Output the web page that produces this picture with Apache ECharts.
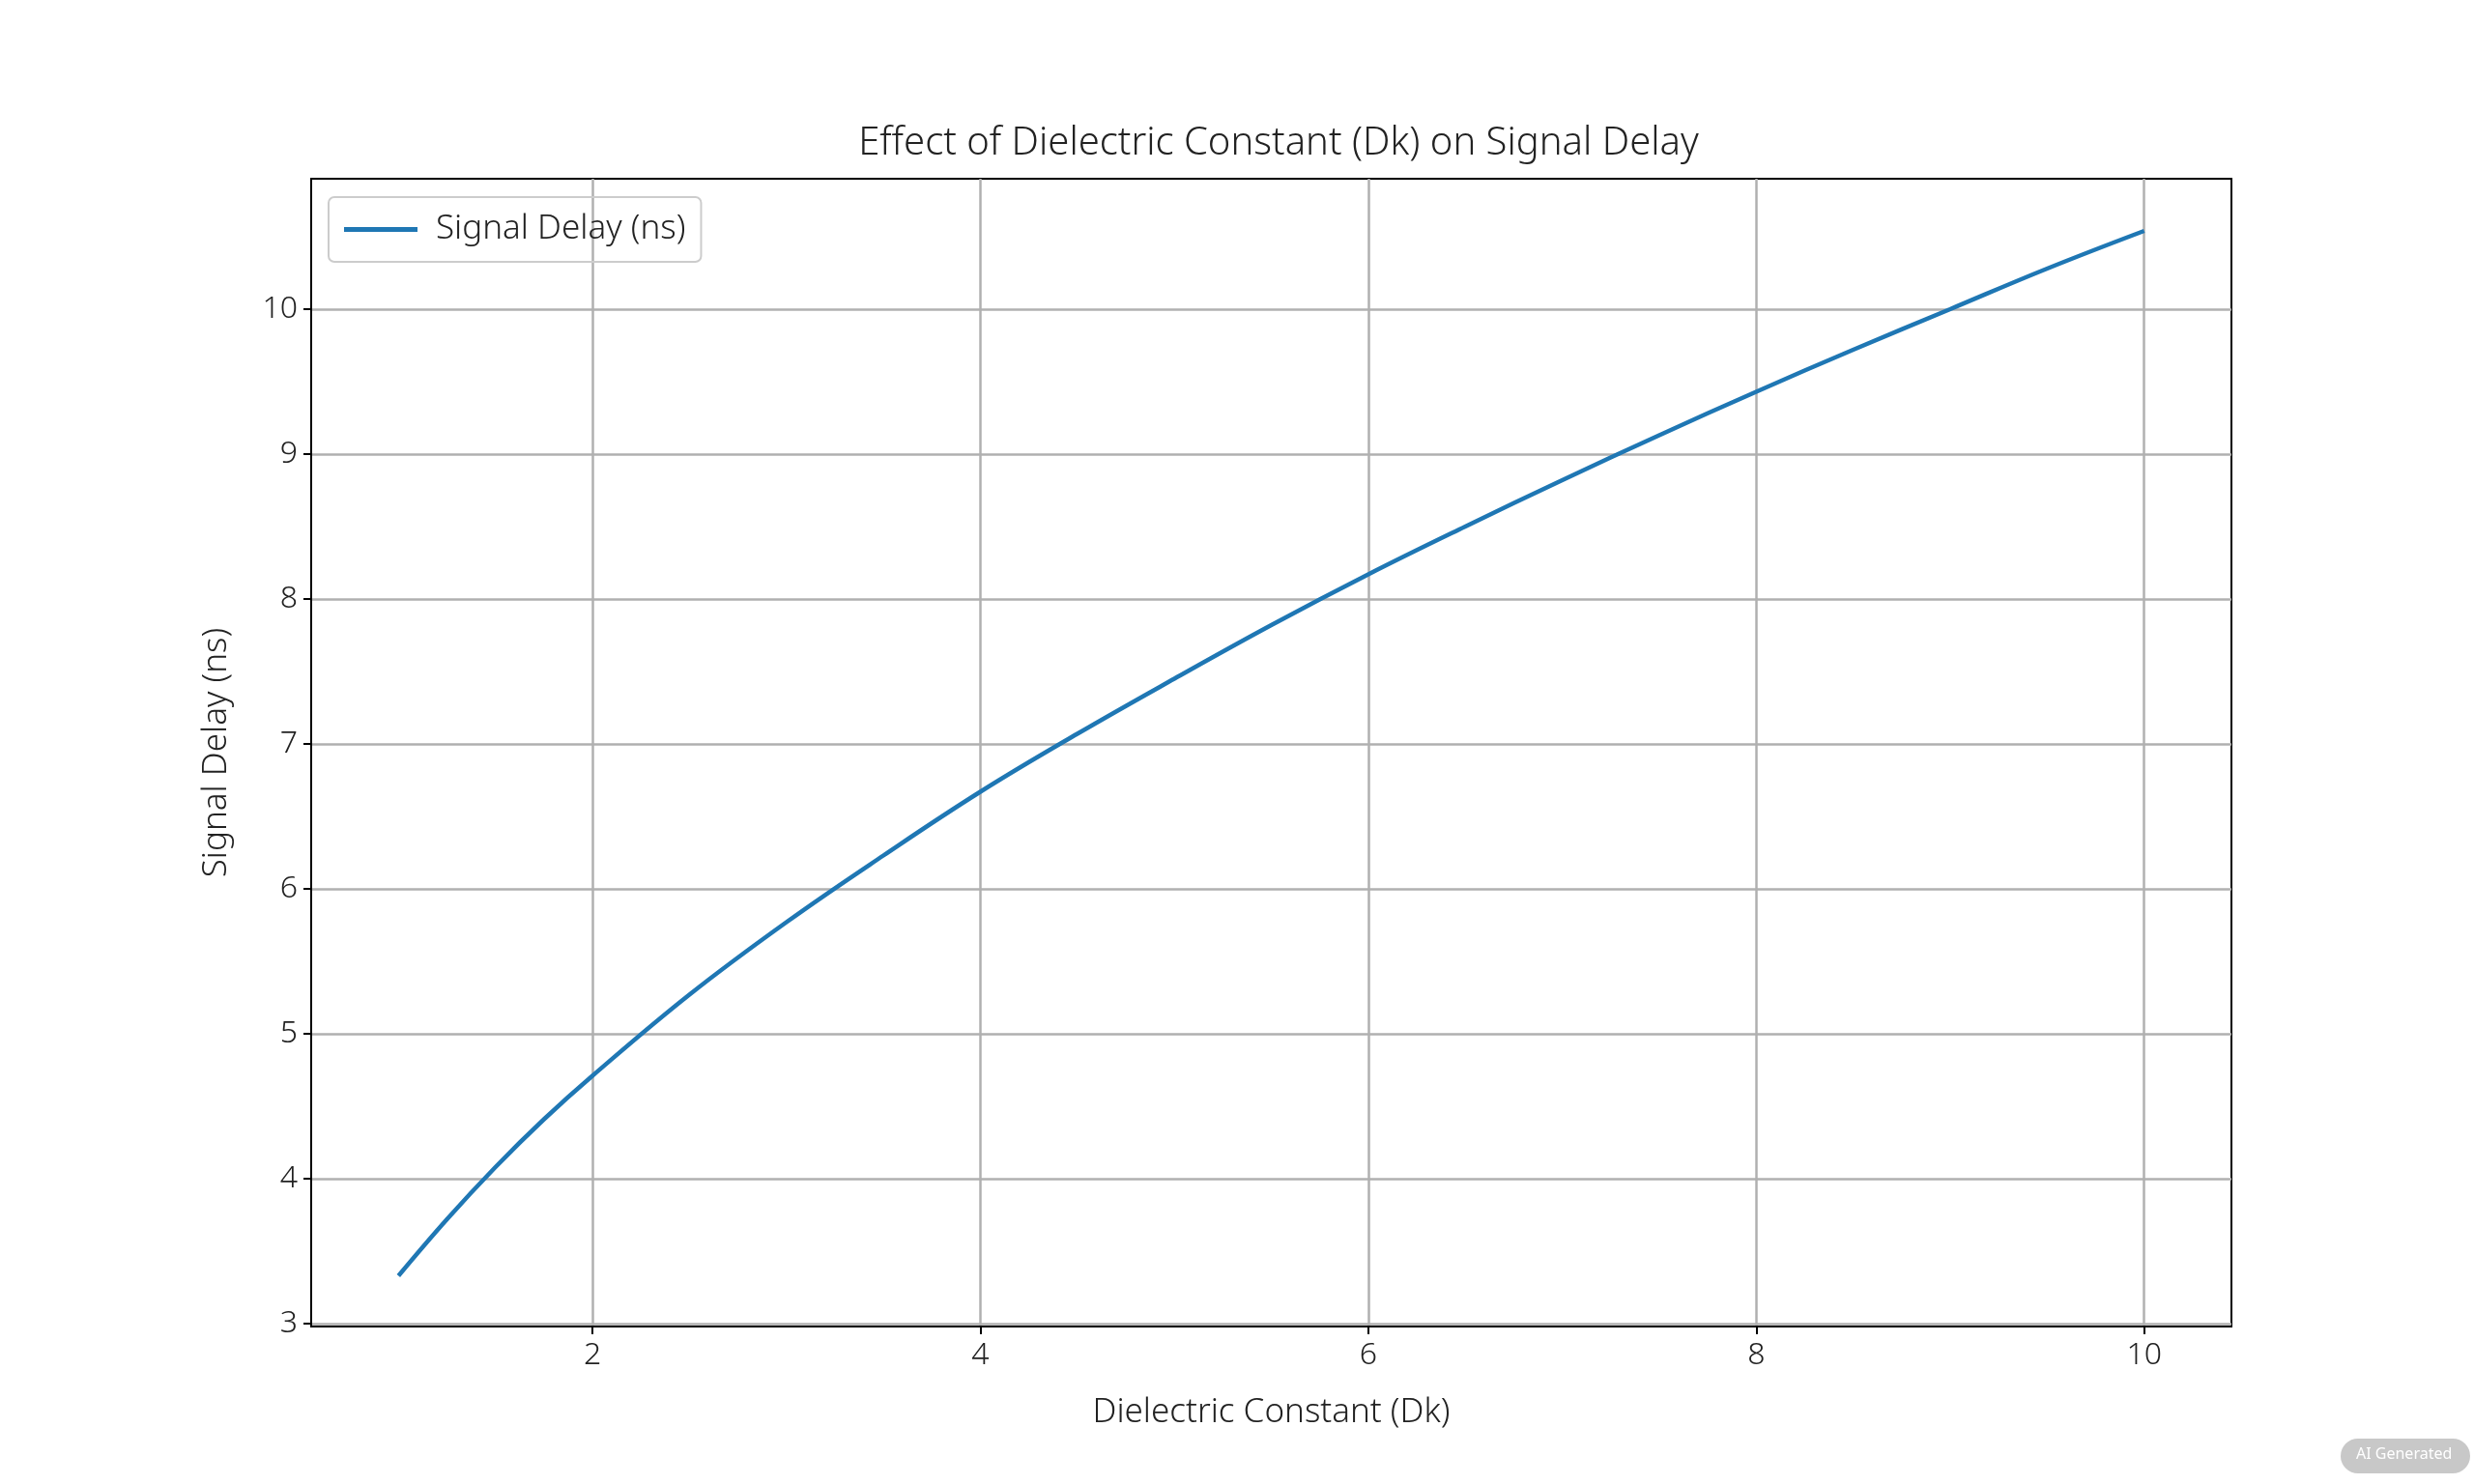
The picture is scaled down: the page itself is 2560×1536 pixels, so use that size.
<!DOCTYPE html>
<html><head><meta charset="utf-8">
<script src="https://cdn.jsdelivr.net/npm/echarts@6/dist/echarts.min.js"></script>
<style>html,body{margin:0;background:#fff}#c{width:2560px;height:1536px}</style>
</head><body><div id="c"></div>
<script>
const dk = [1,1.25,1.5,1.75,2,2.5,3,3.5,4,4.5,5,5.5,6,6.5,7,7.5,8,8.5,9,9.5,10];
const delay = [3.33,3.72,4.08,4.41,4.71,5.27,5.77,6.23,6.67,7.07,7.45,7.82,8.17,8.50,8.82,9.13,9.43,9.72,10.00,10.28,10.54];
const xTicks = [2,4,6,8,10];
const yTicks = [3,4,5,6,7,8,9,10];
const F = '"Noto Sans", sans-serif';
const chart = echarts.init(document.getElementById('c'));
chart.setOption({
  animation:false,
  title:{text:'Effect of Dielectric Constant (Dk) on Signal Delay',left:1318,top:124,textAlign:'center',
    textStyle:{fontFamily:F,fontWeight:300,fontSize:40,color:'#222'}},
  legend:{left:340,top:204,orient:'vertical',icon:'rect',itemWidth:76,itemHeight:5,itemGap:10,padding:[16,16],
    borderColor:'#ccc',borderWidth:2,borderRadius:6,
    textStyle:{fontFamily:F,fontWeight:300,fontSize:35,color:'#222',padding:[0,0,0,14]}},
  grid:{left:322,right:251,top:185,bottom:163,show:true,borderColor:'#000',borderWidth:2},
  xAxis:{type:'value',min:0.55,max:10.45,name:'Dielectric Constant (Dk)',nameLocation:'middle',nameGap:72,
    nameTextStyle:{fontFamily:F,fontWeight:300,fontSize:35,color:'#222'},
    axisLine:{lineStyle:{color:'#000',width:2}},
    axisTick:{customValues:xTicks,length:8,lineStyle:{color:'#000',width:2}},
    axisLabel:{customValues:xTicks,fontFamily:F,fontWeight:300,fontSize:32,color:'#222',margin:14},
    splitLine:{show:true,lineStyle:{color:'#b0b0b0',width:2.5}}},
  yAxis:{type:'value',min:2.98,max:10.9,name:'Signal Delay (ns)',nameLocation:'middle',nameGap:80,
    nameTextStyle:{fontFamily:F,fontWeight:300,fontSize:35,color:'#222'},
    axisLine:{show:true,lineStyle:{color:'#000',width:2}},
    axisTick:{show:true,customValues:yTicks,length:8,lineStyle:{color:'#000',width:2}},
    axisLabel:{customValues:yTicks,fontFamily:F,fontWeight:300,fontSize:32,color:'#222',margin:14},
    splitLine:{show:true,lineStyle:{color:'#b0b0b0',width:2.5}}},
  series:[{name:'Signal Delay (ns)',type:'line',smooth:0.4,showSymbol:false,
    data:dk.map((x,i)=>[x,delay[i]]),lineStyle:{color:'#1f77b4',width:4.5},itemStyle:{color:'#1f77b4'}}],
  graphic:[{type:'rect',left:2422,top:1489,shape:{width:134,height:36,r:18},style:{fill:'#c8c8c8'}},
    {type:'text',left:2438,top:1497,style:{text:'AI Generated',fill:'#fff',font:'16px "Noto Sans"'}}]
});
</script></body></html>
